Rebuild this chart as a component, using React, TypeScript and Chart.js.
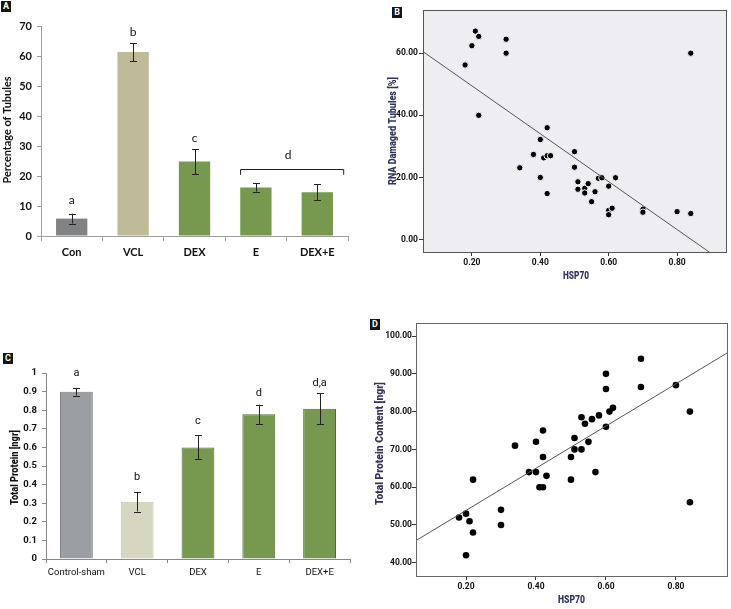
import React, { useEffect, useRef } from "react";
import { Chart, registerables } from "chart.js";
Chart.register(...registerables);

// ---------- Panel A data ----------
const catsA = ["Con", "VCL", "DEX", "E", "DEX+E"];
const valsA = [5.8, 61.3, 24.8, 16.2, 14.6];
const errA = [1.65, 3.0, 4.15, 1.4, 2.6];
const lettersA = ["a", "b", "c", "", ""];
const letterPosA = [11.9, 67.8, 32.5, 0, 0];
const bracketA = { from: 2.75, to: 4.43, y: 22.2, drop: 1.8, label: "d", labelY: 26.9 };
const colorsA = ["#808285", "#bfbb99", "#77994f", "#77994f", "#77994f"];

// ---------- Panel C data ----------
const catsC = ["Control-sham", "VCL", "DEX", "E", "DEX+E"];
const valsC = [0.899, 0.308, 0.6, 0.778, 0.808];
const errC = [0.021, 0.053, 0.065, 0.052, 0.082];
const lettersC = ["a", "b", "c", "d", "d,a"];
const letterPosC = [1.0, 0.44, 0.74, 0.89, 0.945];
const colorsC = ["#9b9fa4", "#d7d7c1", "#77994f", "#77994f", "#77994f"];
const bordersC = ["#7f8388", "#c4c4ac", "#4d6c2f", "#4d6c2f", "#4d6c2f"];

// ---------- Panel B data ----------
const hspB = [0.18, 0.2, 0.21, 0.22, 0.22, 0.3, 0.3, 0.34, 0.38, 0.4, 0.4, 0.41, 0.42, 0.42, 0.43, 0.42, 0.5, 0.5, 0.51, 0.51, 0.53, 0.53, 0.54, 0.55, 0.56, 0.57, 0.58, 0.6, 0.6, 0.6, 0.61, 0.62, 0.7, 0.7, 0.8, 0.84, 0.84];
const rnaB = [56.2, 62.4, 67.1, 65.4, 40, 64.5, 60, 23.1, 27.4, 32.2, 20, 26.3, 36, 27, 27, 14.8, 28.3, 23.3, 18.6, 16.2, 16.5, 15, 18, 12.2, 15.4, 19.7, 19.9, 17.2, 9.4, 8, 10.1, 19.9, 9.8, 8.8, 9, 8.4, 60];
const regB = { intercept: 64.9, slope: -77.1 };
const xTicksB = [0.2, 0.4, 0.6, 0.8];
const yTicksB = [0, 20, 40, 60];

// ---------- Panel D data ----------
const hspD = [0.18, 0.2, 0.2, 0.21, 0.22, 0.22, 0.3, 0.3, 0.34, 0.38, 0.4, 0.4, 0.41, 0.42, 0.42, 0.42, 0.43, 0.5, 0.5, 0.51, 0.51, 0.53, 0.53, 0.54, 0.55, 0.56, 0.57, 0.58, 0.6, 0.6, 0.6, 0.61, 0.62, 0.7, 0.7, 0.8, 0.84, 0.84];
const protD = [52, 53, 42, 51, 48, 62, 54, 50, 71, 64, 72, 64, 60, 60, 75, 68, 63, 68, 62, 73, 70, 78.5, 70, 76.8, 72, 78, 64, 79, 90, 86, 76, 80, 81, 94, 86.5, 87, 80, 56];
const regD = { intercept: 42.7, slope: 55.8 };
const xTicksD = [0.2, 0.4, 0.6, 0.8];
const yTicksD = [40, 50, 60, 70, 80, 90, 100];

const ROB = "Roboto, 'Liberation Sans', sans-serif";
const CAL = "Lato, 'Open Sans', sans-serif";

type TitleSpec = { text: string; x: number; y: number; rot: boolean; font: string; color: string; width: number };

const titlesPlugin = (titles: TitleSpec[]) => ({
  id: "titles",
  afterDraw(chart: any) {
    const ctx = chart.ctx;
    titles.forEach((t) => {
      ctx.save();
      ctx.font = t.font;
      ctx.fillStyle = t.color;
      ctx.textAlign = "center";
      ctx.textBaseline = "middle";
      const w = ctx.measureText(t.text).width;
      const sx = t.width ? t.width / w : 1;
      ctx.translate(t.x, t.y);
      if (t.rot) ctx.rotate(-Math.PI / 2);
      ctx.scale(sx, 1);
      ctx.fillText(t.text, 0, 0);
      ctx.restore();
    });
  },
});

function barAnnotations(errs: number[], letters: string[], letterPos: number[], letterFont: string, bracket?: any) {
  return {
    id: "barAnn",
    afterDatasetsDraw(chart: any) {
      const ctx = chart.ctx;
      const x = chart.scales.x;
      const y = chart.scales.y;
      const meta = chart.getDatasetMeta(0);
      ctx.save();
      ctx.strokeStyle = "#222";
      ctx.lineWidth = 1;
      meta.data.forEach((bar: any, i: number) => {
        const v = chart.data.datasets[0].data[i];
        const px = Math.round(bar.x) + 0.5;
        const yTop = y.getPixelForValue(v + errs[i]);
        const yBot = y.getPixelForValue(v - errs[i]);
        ctx.beginPath();
        ctx.moveTo(px, yTop);
        ctx.lineTo(px, yBot);
        ctx.moveTo(px - 3.5, Math.round(yTop) + 0.5);
        ctx.lineTo(px + 3.5, Math.round(yTop) + 0.5);
        ctx.moveTo(px - 3.5, Math.round(yBot) + 0.5);
        ctx.lineTo(px + 3.5, Math.round(yBot) + 0.5);
        ctx.stroke();
      });
      ctx.fillStyle = "#111";
      ctx.font = letterFont;
      ctx.textAlign = "center";
      ctx.textBaseline = "middle";
      letters.forEach((l, i) => {
        if (!l) return;
        ctx.fillText(l, x.getPixelForValue(i), y.getPixelForValue(letterPos[i]));
      });
      if (bracket) {
        const p0 = x.getPixelForValue(0);
        const step = x.getPixelForValue(1) - p0;
        const xa = p0 + bracket.from * step;
        const xb = p0 + bracket.to * step;
        const yb = Math.round(y.getPixelForValue(bracket.y)) + 0.5;
        const yd = y.getPixelForValue(bracket.y - bracket.drop);
        ctx.beginPath();
        ctx.moveTo(xa, yd);
        ctx.lineTo(xa, yb);
        ctx.lineTo(xb, yb);
        ctx.lineTo(xb, yd);
        ctx.stroke();
        ctx.fillText(bracket.label, (xa + xb) / 2 - 4, y.getPixelForValue(bracket.labelY));
      }
      ctx.restore();
    },
  };
}

const framePlugin = (bg: string | null, color: string) => ({
  id: "frame",
  beforeDraw(chart: any) {
    if (!bg) return;
    const a = chart.chartArea;
    chart.ctx.save();
    chart.ctx.fillStyle = bg;
    chart.ctx.fillRect(a.left, a.top, a.right - a.left, a.bottom - a.top);
    chart.ctx.restore();
  },
  afterDraw(chart: any) {
    const a = chart.chartArea;
    const ctx = chart.ctx;
    ctx.save();
    ctx.strokeStyle = color;
    ctx.lineWidth = 1;
    ctx.strokeRect(Math.round(a.left) + 0.5, Math.round(a.top) + 0.5, Math.round(a.right - a.left), Math.round(a.bottom - a.top));
    ctx.restore();
  },
});

function useChart(make: () => any) {
  useEffect(() => {
    const c = make();
    return () => c.destroy();
  }, []);
}

function PanelA() {
  const ref = useRef<HTMLCanvasElement>(null);
  useChart(() =>
    new Chart(ref.current!, {
      type: "bar",
      data: {
        labels: catsA,
        datasets: [{ data: valsA, backgroundColor: colorsA, categoryPercentage: 1, barPercentage: 0.51 }],
      },
      options: {
        responsive: false,
        animation: false,
        layout: { padding: { top: 26, right: 17, left: 0, bottom: 0 } },
        plugins: { legend: { display: false }, tooltip: { enabled: false } },
        scales: {
          x: {
            afterFit: (s: any) => { s.height = 64; },
            grid: { offset: true, drawOnChartArea: false, tickLength: 5, color: "#a0a0a0" },
            border: { color: "#a0a0a0" },
            ticks: { color: "#111", padding: 5, maxRotation: 0, autoSkip: false, font: { family: CAL, size: 11, weight: "bold" } },
          },
          y: {
            min: 0,
            max: 70,
            afterFit: (s: any) => { s.width = 41; },
            ticks: { stepSize: 10, color: "#111", padding: 5, font: { family: CAL, size: 11, weight: "bold" } },
            grid: { drawOnChartArea: false, tickLength: 4, color: "#a0a0a0" },
            border: { color: "#a0a0a0" },
          },
        },
      },
      plugins: [
        barAnnotations(errA, lettersA, letterPosA, `12px ${CAL}`, bracketA),
        titlesPlugin([{ text: "Percentage of Tubules", x: 7.5, y: 130, rot: true, font: `bold 11px ${CAL}`, color: "#111", width: 107 }]),
      ],
    } as any)
  );
  return <canvas ref={ref} width={365} height={300} style={{ position: "absolute", left: 0, top: 0 }} />;
}

function PanelC() {
  const ref = useRef<HTMLCanvasElement>(null);
  useChart(() =>
    new Chart(ref.current!, {
      type: "bar",
      data: {
        labels: catsC,
        datasets: [{ data: valsC, backgroundColor: colorsC, borderColor: bordersC, borderWidth: 1, categoryPercentage: 1, barPercentage: 0.54 }],
      },
      options: {
        responsive: false,
        animation: false,
        layout: { padding: { top: 73, right: 15, left: 0, bottom: 0 } },
        plugins: { legend: { display: false }, tooltip: { enabled: false } },
        scales: {
          x: {
            afterFit: (s: any) => { s.height = 50; },
            grid: { offset: true, drawOnChartArea: false, tickLength: 4, color: "#888" },
            border: { color: "#888" },
            ticks: { color: "#111", padding: 4, maxRotation: 0, minRotation: 0, autoSkip: false, font: { family: ROB, size: 9.5 } },
          },
          y: {
            min: 0,
            max: 1,
            afterFit: (s: any) => { s.width = 46; },
            ticks: {
              stepSize: 0.1, color: "#111", padding: 5,
              callback: (v: any) => String(Math.round(Number(v) * 10) / 10),
              font: { family: ROB, size: 9.5, weight: "bold" },
            },
            grid: { drawOnChartArea: false, tickLength: 4, color: "#888" },
            border: { color: "#888" },
          },
        },
      },
      plugins: [
        barAnnotations(errC, lettersC, letterPosC, `11px ${ROB}`),
        titlesPlugin([{ text: "Total Protein [ngr]", x: 15, y: 167.5, rot: true, font: `900 10px ${ROB}`, color: "#111", width: 75 }]),
      ],
    } as any)
  );
  return <canvas ref={ref} width={365} height={309} style={{ position: "absolute", left: 0, top: 300 }} />;
}

function scatterChart(canvas: HTMLCanvasElement, o: any) {
  const pts = o.xs.map((x: number, i: number) => ({ x, y: o.ys[i] }));
  const line = [o.xmin, o.xmax].map((x: number) => ({ x, y: o.reg.intercept + o.reg.slope * x }));
  return new Chart(canvas, {
    type: "scatter",
    data: {
      datasets: [
        { data: line, type: "line", showLine: true, pointRadius: 0, borderColor: "#555", borderWidth: 1, fill: false },
        { data: pts, pointRadius: o.radius, backgroundColor: "#000", borderColor: o.halo, borderWidth: o.haloW },
      ],
    },
    options: {
      responsive: false,
      animation: false,
      layout: { padding: o.padding },
      plugins: { legend: { display: false }, tooltip: { enabled: false } },
      scales: {
        x: {
          type: "linear",
          min: o.xmin,
          max: o.xmax,
          afterFit: (s: any) => { s.height = o.xh; },
          afterBuildTicks: (s: any) => { s.ticks = o.xticks.map((v: number) => ({ value: v })); },
          grid: { drawOnChartArea: false, tickLength: 4, color: "#333" },
          border: { display: false },
          ticks: { color: "#111", padding: o.xpad, callback: (v: any) => Number(v).toFixed(2), font: { family: ROB, size: 8.5, weight: "bold" } },
        },
        y: {
          type: "linear",
          min: o.ymin,
          max: o.ymax,
          afterFit: (s: any) => { s.width = o.yw; },
          afterBuildTicks: (s: any) => { s.ticks = o.yticks.map((v: number) => ({ value: v })); },
          grid: { drawOnChartArea: false, tickLength: 4, color: "#333" },
          border: { display: false },
          ticks: { color: "#111", padding: o.ypad, callback: (v: any) => Number(v).toFixed(2), font: { family: ROB, size: 8.5, weight: "bold" } },
        },
      },
    },
    plugins: [framePlugin(o.bg, o.frame), titlesPlugin(o.titles)],
  } as any);
}

const TITLE_FONT = `900 10px ${ROB}`;
const TITLE_COLOR = "#33335c";

function PanelB() {
  const ref = useRef<HTMLCanvasElement>(null);
  useChart(() =>
    scatterChart(ref.current!, {
      xs: hspB, ys: rnaB, reg: regB, xmin: 0.057, xmax: 0.943, ymin: -4, ymax: 73.9,
      xticks: xTicksB, yticks: yTicksB, padding: { top: 10, right: 4, left: 0, bottom: 0 },
      xh: 48, yw: 58, xpad: 2, ypad: 1,
      bg: "#ededf2", frame: "#555", radius: 3.2, halo: "#ffffff", haloW: 1,
      titles: [
        { text: "HSP70", x: 211, y: 276, rot: false, font: TITLE_FONT, color: TITLE_COLOR, width: 26 },
        { text: "RNA Damaged Tubules [%]", x: 28.5, y: 131, rot: true, font: TITLE_FONT, color: TITLE_COLOR, width: 108 },
      ],
    })
  );
  return <canvas ref={ref} width={366} height={300} style={{ position: "absolute", left: 365, top: 0 }} />;
}

function PanelD() {
  const ref = useRef<HTMLCanvasElement>(null);
  useChart(() =>
    scatterChart(ref.current!, {
      xs: hspD, ys: protD, reg: regD, xmin: 0.057, xmax: 0.946, ymin: 36.5, ymax: 103.45,
      xticks: xTicksD, yticks: yTicksD, padding: { top: 23, right: 4, left: 0, bottom: 0 },
      xh: 33, yw: 51, xpad: 2, ypad: 0,
      bg: null, frame: "#666", radius: 3.3, halo: "#000", haloW: 0,
      titles: [
        { text: "HSP70", x: 206.5, y: 300, rot: false, font: TITLE_FONT, color: TITLE_COLOR, width: 27 },
        { text: "Total Protein Content [ngr]", x: 15, y: 143.5, rot: true, font: TITLE_FONT, color: TITLE_COLOR, width: 123 },
      ],
    })
  );
  return <canvas ref={ref} width={366} height={309} style={{ position: "absolute", left: 365, top: 300 }} />;
}

function Tag({ t, x, y }: { t: string; x: number; y: number }) {
  return (
    <div
      style={{
        position: "absolute", left: x, top: y, width: 10, height: 11, background: "#151515", color: "#fff",
        font: `bold 9px ${ROB}`, lineHeight: "11px", textAlign: "center",
      }}
    >
      {t}
    </div>
  );
}

export default function App() {
  return (
    <div style={{ position: "absolute", left: 0, top: 0, width: 731, height: 609, background: "#fff", overflow: "hidden" }}>
      <PanelA />
      <PanelB />
      <PanelC />
      <PanelD />
      <Tag t="A" x={1} y={1} />
      <Tag t="B" x={392} y={7} />
      <Tag t="C" x={3} y={353} />
      <Tag t="D" x={370} y={319} />
    </div>
  );
}
